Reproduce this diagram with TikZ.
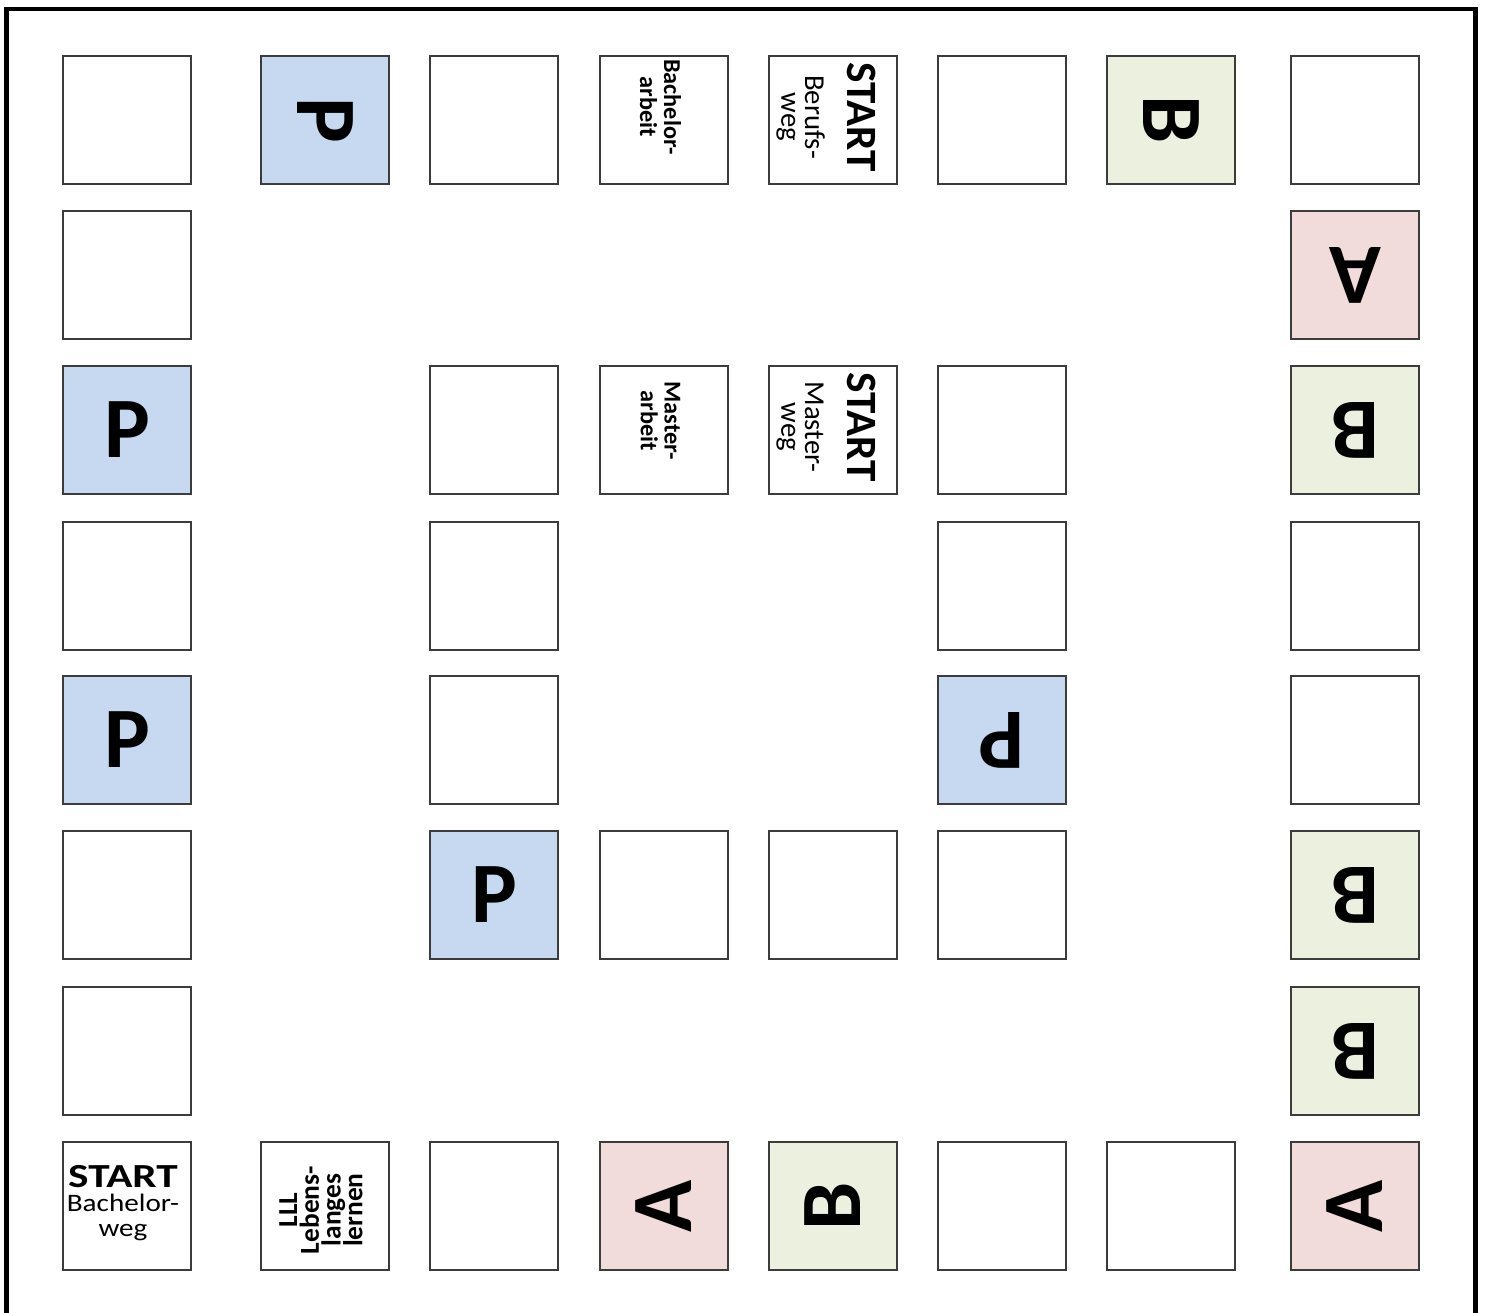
\documentclass[tikz,border=0pt]{standalone}
\usepackage{graphicx}
\usepackage{fontspec}
\setmainfont{Carlito}
\definecolor{pblue}{RGB}{198,217,240}
\definecolor{bgreen}{RGB}{235,241,222}
\definecolor{ared}{RGB}{242,220,219}
\definecolor{fieldline}{RGB}{60,60,60}
\tikzset{
  field/.style={draw=fieldline, line width=0.6pt, fill=white, minimum size=1.28cm, inner sep=0pt, font=\fontsize{24.5}{26}\selectfont\bfseries},
  pfield/.style={field, fill=pblue},
  afield/.style={field, fill=ared},
  bfield/.style={field, fill=bgreen},
  fieldtext/.style={inner sep=0pt, align=center}
}
\begin{document}
\begin{tikzpicture}
        \useasboundingbox (0,0) rectangle (14.85,13.12);
        \clip (0,0) rectangle (14.85,13.12);
        % cornice
        \draw [line width=1.4pt] (0.065,-0.2) -- (0.065,13.03) -- (14.755,13.03) -- (14.755,-0.2);
        % riga 1
        \node[field] (r1c1) at (1.27,11.92) {};\node[pfield,rotate=-90] (r1c2) at (3.25,11.92) {P};
        \node[field] (r1c3) at (4.94,11.92) {};\node[field] (r1c4) at (6.64,11.92) {};
        \node[field] (r1c5) at (8.33,11.92) {};\node[field] (r1c6) at (10.02,11.92) {};
        \node[bfield,rotate=-90] (r1c7) at (11.71,11.92) {B};\node[field] (r1c8) at (13.55,11.92) {};
        % riga 2
        \node[field] (r2c1) at (1.27,10.37) {};\node[afield,rotate=180] (r2c8) at (13.55,10.37) {A};
        % riga 3
        \node[pfield] (r3c1) at (1.27,8.82) {P};\node[field] (r3c3) at (4.94,8.82) {};
        \node[field] (r3c4) at (6.64,8.82) {};\node[field] (r3c5) at (8.33,8.82) {};
        \node[field] (r3c6) at (10.02,8.82) {};\node[bfield,rotate=180] (r3c8) at (13.55,8.82) {B};
        % riga 4
        \node[field] (r4c1) at (1.27,7.26) {};\node[field] (r4c3) at (4.94,7.26) {};
        \node[field] (r4c6) at (10.02,7.26) {};\node[field] (r4c8) at (13.55,7.26) {};
        % riga 5
        \node[pfield] (r5c1) at (1.27,5.72) {P};\node[field] (r5c3) at (4.94,5.72) {};
        \node[pfield,rotate=180] (r5c6) at (10.02,5.72) {P};\node[field] (r5c8) at (13.55,5.72) {};
        % riga 6
        \node[field] (r6c1) at (1.27,4.17) {};\node[pfield] (r6c3) at (4.94,4.17) {P};
        \node[field] (r6c4) at (6.64,4.17) {};\node[field] (r6c5) at (8.33,4.17) {};
        \node[field] (r6c6) at (10.02,4.17) {};\node[bfield,rotate=180] (r6c8) at (13.55,4.17) {B};
        % riga 7
        \node[field] (r7c1) at (1.27,2.61) {};\node[bfield,rotate=180] (r7c8) at (13.55,2.61) {B};
        % riga 8
        \node[field] (r8c1) at (1.27,1.06) {};\node[field] (r8c2) at (3.25,1.06) {};
        \node[field] (r8c3) at (4.94,1.06) {};\node[afield,rotate=90] (r8c4) at (6.64,1.06) {A};
        \node[bfield,rotate=90] (r8c5) at (8.33,1.06) {B};\node[field] (r8c6) at (10.02,1.06) {};
        \node[field] (r8c7) at (11.71,1.06) {};\node[afield,rotate=90] (r8c8) at (13.55,1.06) {A};
        % scritte
        \node[fieldtext,rotate=-90,font=\fontsize{6.9}{6.8}\selectfont\bfseries] (t14) at ([xshift=-0.035cm,yshift=0.13cm]r1c4.center) {Bachelor-\\arbeit};
        \node[fieldtext,rotate=-90,font=\fontsize{8.2}{6.8}\selectfont] (t15) at ([xshift=-0.07cm,yshift=0.03cm]r1c5.center) {{\fontsize{12.3}{12}\selectfont\bfseries START}\\[5.2pt]Berufs-\\weg};
        \node[fieldtext,rotate=-90,font=\fontsize{6.9}{6.8}\selectfont\bfseries] (t34) at ([xshift=-0.035cm,yshift=0.09cm]r3c4.center) {Master-\\arbeit};
        \node[fieldtext,rotate=-90,font=\fontsize{8.2}{6.8}\selectfont] (t35) at ([xshift=-0.07cm,yshift=0.03cm]r3c5.center) {{\fontsize{12.3}{12}\selectfont\bfseries START}\\[5.2pt]Master-\\weg};
        \node[fieldtext,font=\fontsize{8.3}{6.6}\selectfont] (t81) at ([xshift=-0.04cm,yshift=0.03cm]r8c1.center) {\scalebox{1}[0.78]{\fontsize{12.3}{12}\selectfont\bfseries START}\\\scalebox{1}[0.86]{Bachelor-}\\[0.5pt]\scalebox{1}[0.86]{weg}};
        \node[fieldtext,rotate=90,font={\fontsize{7.8}{6.2}\selectfont\bfseries\lineskiplimit=-10pt}] (t82) at ([xshift=-0.04cm,yshift=-0.04cm]r8c2.center) {LLL\\Lebens-\\langes\\lernen};
    \end{tikzpicture}
\end{document}
